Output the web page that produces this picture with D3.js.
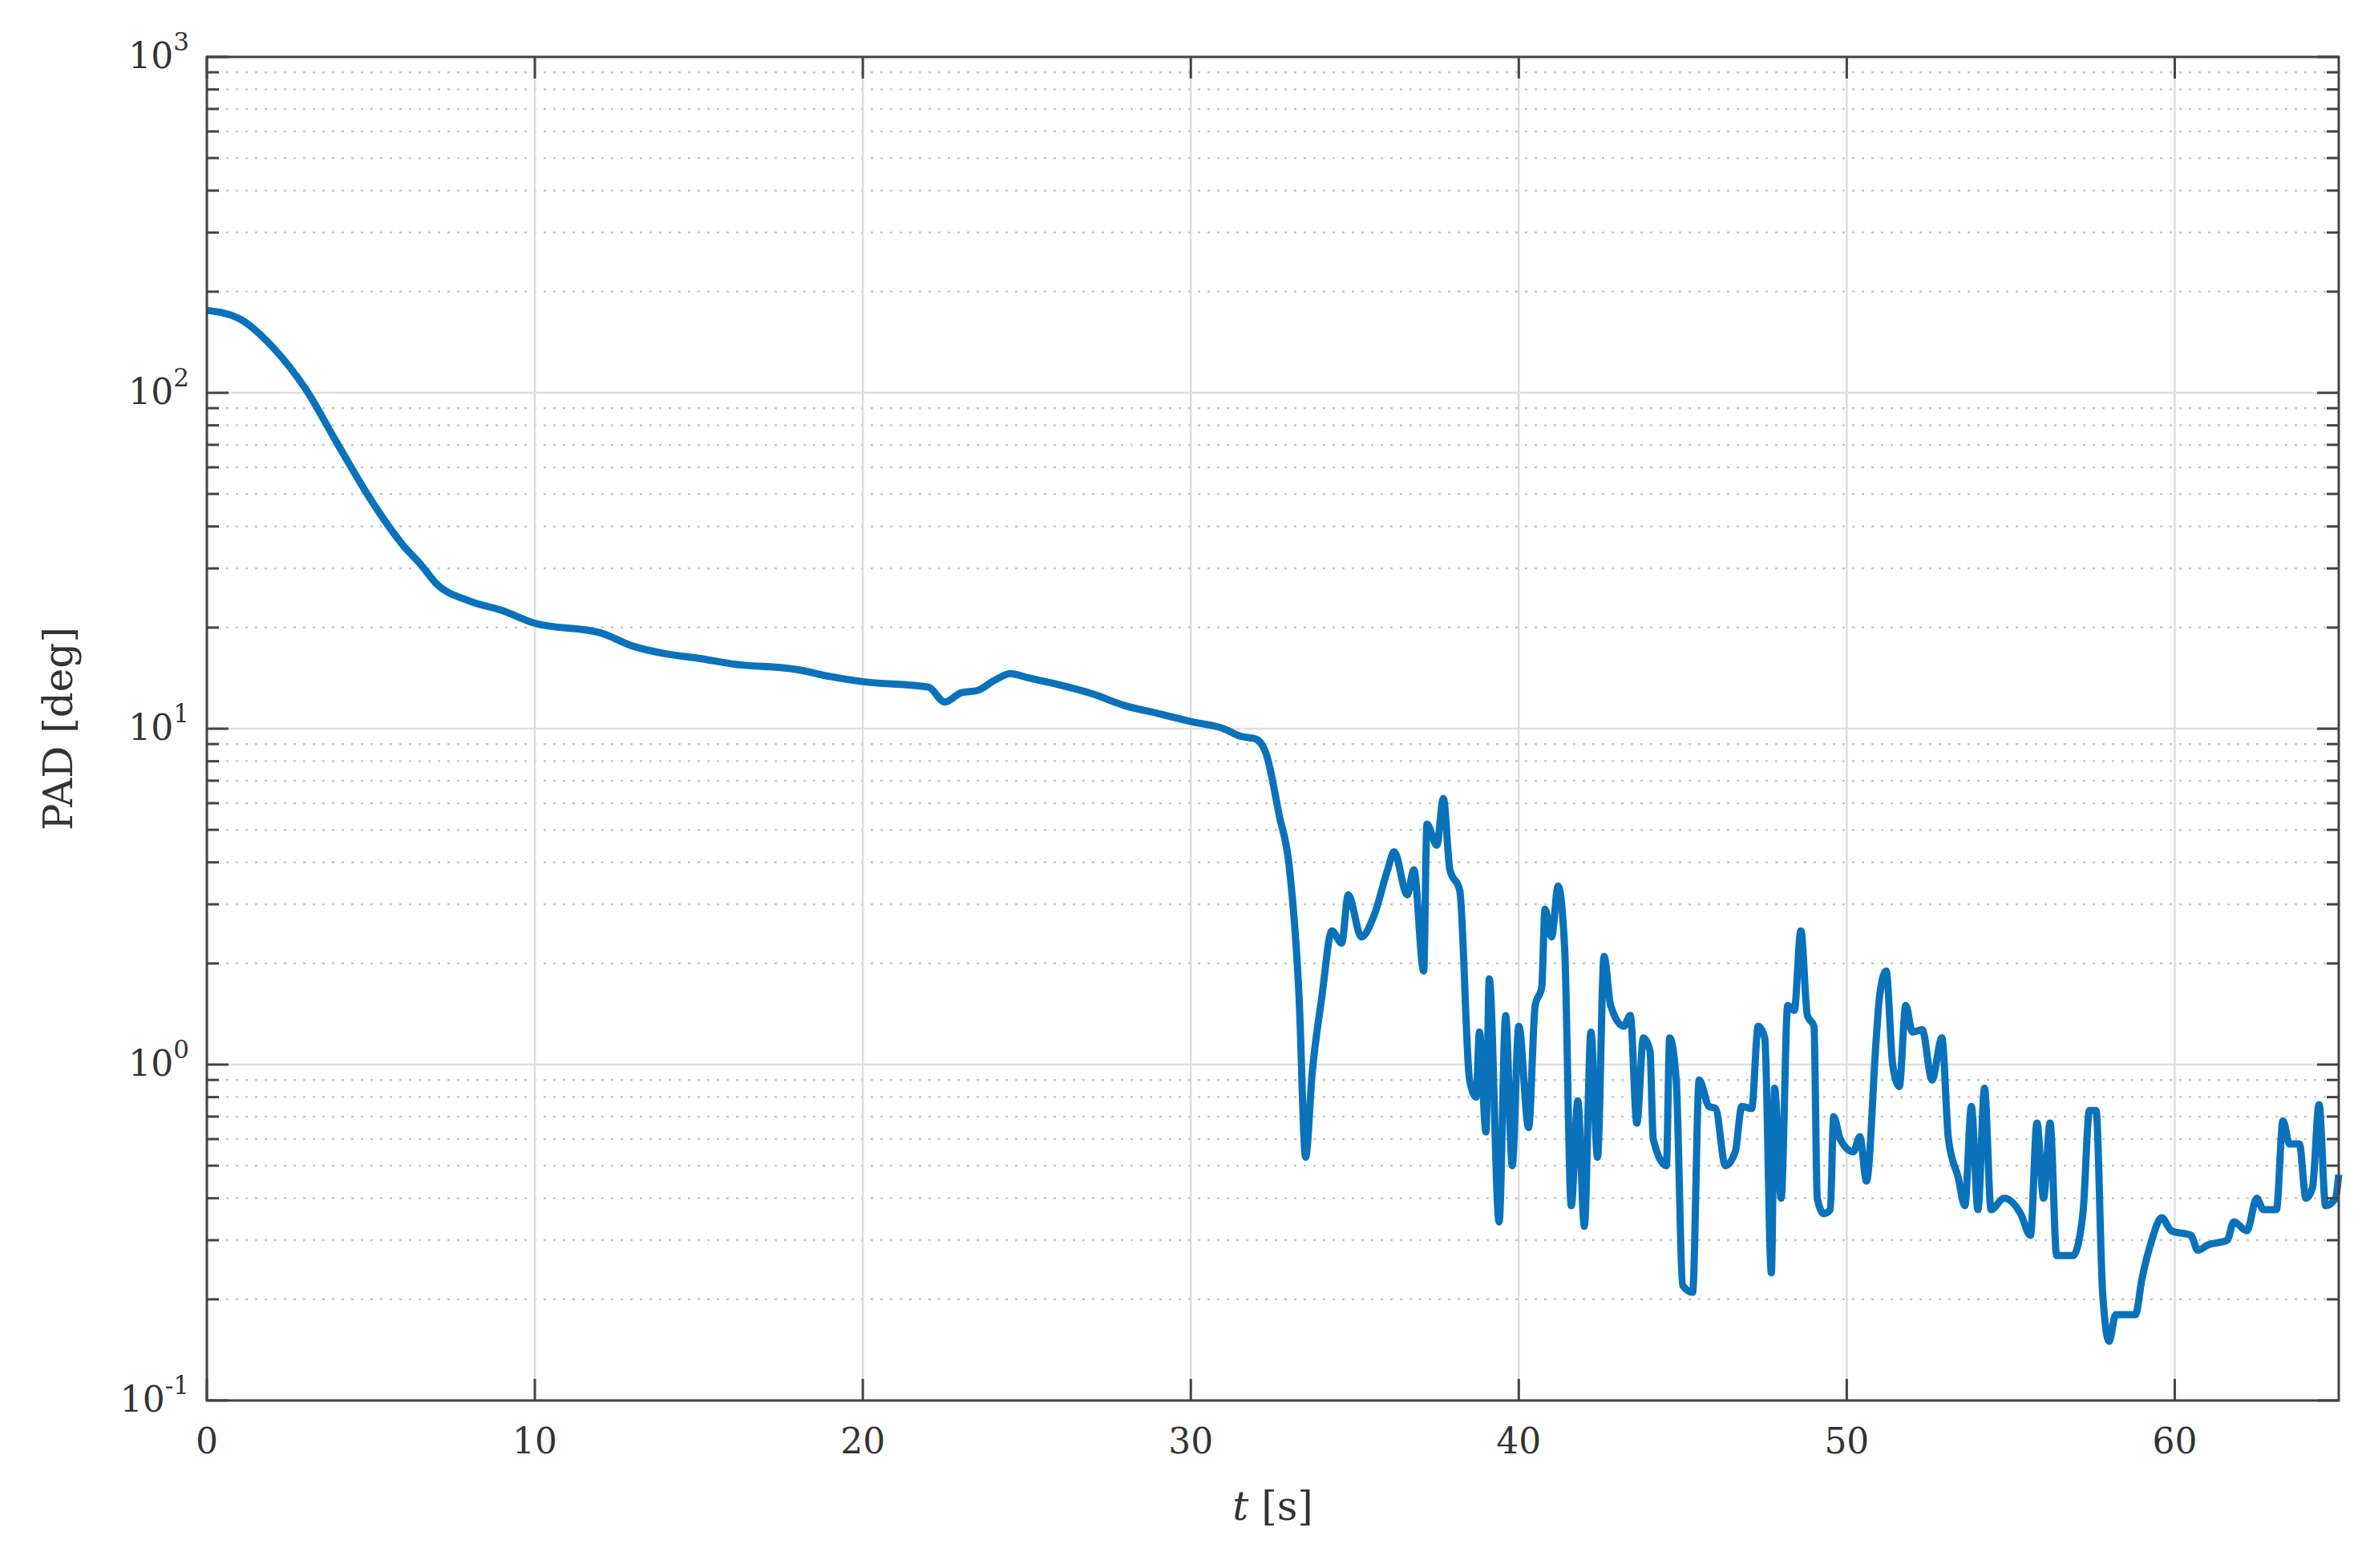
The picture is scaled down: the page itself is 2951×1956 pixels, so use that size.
<!DOCTYPE html>
<html>
<head>
<meta charset="utf-8">
<script src="https://cdn.jsdelivr.net/npm/d3@7"></script>
<style>
  body { margin: 0; background: #fff; }
  text { font-family: "DejaVu Serif", serif; fill: #333; }
</style>
</head>
<body>
<svg id="chart" width="2951" height="1956"></svg>
<script>
// time [s] and PAD [deg]
const tVals = [0, 1, 2, 3, 4, 5, 6, 6.5, 7, 8, 9, 10, 12, 13, 14, 15, 16, 18, 19, 20, 22, 22.5, 23, 23.5, 24, 24.5, 25, 26, 27, 28, 29, 30, 31, 31.5, 32, 32.3, 32.7, 33, 33.3, 33.5, 33.7, 34, 34.3, 34.6, 34.8, 35.2, 35.6, 36, 36.2, 36.6, 36.8, 37.1, 37.2, 37.5, 37.7, 37.9, 38.2, 38.5, 38.7, 38.8, 39, 39.1, 39.4, 39.6, 39.8, 40, 40.3, 40.5, 40.7, 40.8, 41, 41.2, 41.4, 41.6, 41.8, 42, 42.2, 42.4, 42.6, 42.8, 43.2, 43.4, 43.6, 43.8, 44, 44.1, 44.5, 44.6, 44.8, 45, 45.3, 45.5, 45.8, 46, 46.3, 46.6, 46.8, 47.1, 47.3, 47.5, 47.7, 47.8, 48, 48.2, 48.4, 48.6, 48.8, 49, 49.1, 49.3, 49.5, 49.6, 49.8, 50.2, 50.4, 50.6, 50.9, 51, 51.2, 51.4, 51.6, 51.8, 52, 52.3, 52.6, 52.9, 53.1, 53.4, 53.6, 53.8, 54, 54.2, 54.4, 54.8, 55.3, 55.6, 55.8, 56, 56.2, 56.4, 56.9, 57.2, 57.4, 57.6, 57.8, 58, 58.2, 58.8, 59, 59.3, 59.6, 59.9, 60.5, 60.7, 61, 61.6, 61.8, 62.2, 62.5, 62.7, 63.1, 63.3, 63.5, 63.8, 64, 64.2, 64.4, 64.6, 64.9, 65];
const padVals = [176, 166, 137, 103, 70, 48, 35, 31, 27, 24, 22.5, 20.6, 19.3, 17.6, 16.7, 16.2, 15.6, 15, 14.3, 13.8, 13.3, 12, 12.8, 13, 13.9, 14.6, 14.2, 13.5, 12.7, 11.7, 11.1, 10.5, 10, 9.5, 9.3, 8.4, 5.5, 3.9, 1.6, 0.53, 0.94, 1.6, 2.5, 2.3, 3.2, 2.4, 2.8, 3.8, 4.3, 3.2, 3.8, 1.9, 5.2, 4.5, 6.2, 3.8, 3.3, 0.9, 0.8, 1.25, 0.63, 1.8, 0.34, 1.4, 0.5, 1.3, 0.65, 1.5, 1.7, 2.9, 2.4, 3.4, 2.2, 0.38, 0.78, 0.33, 1.25, 0.53, 2.1, 1.5, 1.3, 1.4, 0.67, 1.2, 1.1, 0.6, 0.5, 1.2, 0.9, 0.22, 0.21, 0.9, 0.75, 0.74, 0.5, 0.55, 0.75, 0.74, 1.3, 1.2, 0.24, 0.85, 0.4, 1.5, 1.45, 2.5, 1.4, 1.3, 0.4, 0.36, 0.37, 0.7, 0.6, 0.55, 0.61, 0.45, 1.2, 1.6, 1.9, 1.0, 0.86, 1.5, 1.25, 1.27, 0.9, 1.2, 0.6, 0.46, 0.38, 0.75, 0.37, 0.85, 0.37, 0.4, 0.36, 0.31, 0.67, 0.4, 0.67, 0.27, 0.27, 0.36, 0.73, 0.73, 0.21, 0.15, 0.18, 0.18, 0.23, 0.3, 0.35, 0.32, 0.31, 0.28, 0.29, 0.3, 0.34, 0.32, 0.4, 0.37, 0.37, 0.68, 0.58, 0.58, 0.4, 0.43, 0.76, 0.38, 0.4, 0.47];
const xTicks = [0, 10, 20, 30, 40, 50, 60];
const yDecades = [-1, 0, 1, 2, 3];

const W = 2951, H = 1956;
const m = { left: 258, right: 34, top: 71, bottom: 209 };
const svg = d3.select("#chart");

const x = d3.scaleLinear().domain([0, 65]).range([m.left, W - m.right]);
const y = d3.scaleLog().domain([0.1, 1000]).range([H - m.bottom, m.top]);

const minors = [];
yDecades.slice(0, -1).forEach(e => { for (let k = 2; k <= 9; k++) minors.push(k * Math.pow(10, e)); });

// grid
const g = svg.append("g");
g.selectAll(".minor").data(minors).join("line")
  .attr("x1", m.left).attr("x2", W - m.right)
  .attr("y1", d => y(d)).attr("y2", d => y(d))
  .attr("stroke", "#c8c8c8").attr("stroke-width", 2.5).attr("stroke-dasharray", "3,9");
g.selectAll(".major").data(yDecades).join("line")
  .attr("x1", m.left).attr("x2", W - m.right)
  .attr("y1", d => y(Math.pow(10, d))).attr("y2", d => y(Math.pow(10, d)))
  .attr("stroke", "#dedede").attr("stroke-width", 2.5);
g.selectAll(".vgrid").data(xTicks).join("line")
  .attr("x1", d => x(d)).attr("x2", d => x(d))
  .attr("y1", m.top).attr("y2", H - m.bottom)
  .attr("stroke", "#dedede").attr("stroke-width", 2.5);

// data line
svg.append("path")
  .datum(tVals.map((t, i) => [t, padVals[i]]))
  .attr("fill", "none").attr("stroke", "#0a72ba").attr("stroke-width", 9)
  .attr("stroke-linejoin", "round")
  .attr("d", d3.line().curve(d3.curveMonotoneX).x(d => x(d[0])).y(d => y(d[1])));

// box + ticks
const ax = "#444";
svg.append("rect").attr("x", m.left).attr("y", m.top)
  .attr("width", W - m.left - m.right).attr("height", H - m.top - m.bottom)
  .attr("fill", "none").attr("stroke", ax).attr("stroke-width", 3);
const tk = svg.append("g").attr("stroke", ax).attr("stroke-width", 3);
xTicks.forEach(d => {
  tk.append("line").attr("x1", x(d)).attr("x2", x(d)).attr("y1", H - m.bottom).attr("y2", H - m.bottom - 27);
  tk.append("line").attr("x1", x(d)).attr("x2", x(d)).attr("y1", m.top).attr("y2", m.top + 27);
});
yDecades.forEach(e => {
  const yy = y(Math.pow(10, e));
  tk.append("line").attr("x1", m.left).attr("x2", m.left + 27).attr("y1", yy).attr("y2", yy);
  tk.append("line").attr("x1", W - m.right).attr("x2", W - m.right - 27).attr("y1", yy).attr("y2", yy);
});
minors.forEach(v => {
  const yy = y(v);
  tk.append("line").attr("x1", m.left).attr("x2", m.left + 15).attr("y1", yy).attr("y2", yy);
  tk.append("line").attr("x1", W - m.right).attr("x2", W - m.right - 15).attr("y1", yy).attr("y2", yy);
});

// tick labels
svg.selectAll(".xl").data(xTicks).join("text")
  .attr("x", d => x(d)).attr("y", H - m.bottom + 66)
  .attr("text-anchor", "middle").attr("font-size", 44).text(d => d);
const yl = svg.selectAll(".yl").data(yDecades).join("text")
  .attr("x", m.left - 22).attr("y", d => y(Math.pow(10, d)) + 14)
  .attr("text-anchor", "end").attr("font-size", 44);
yl.append("tspan").text("10");
yl.append("tspan").attr("dy", -22).attr("font-size", 31).text(d => d);

// axis labels
const xt = svg.append("text").attr("x", (m.left + W - m.right) / 2).attr("y", H - 60)
  .attr("text-anchor", "middle").attr("font-size", 50);
xt.append("tspan").attr("font-style", "italic").text("t");
xt.append("tspan").text(" [s]");
svg.append("text").attr("transform", `translate(90,${(m.top + H - m.bottom) / 2}) rotate(-90)`)
  .attr("text-anchor", "middle").attr("font-size", 50).text("PAD [deg]");
</script>
</body>
</html>
